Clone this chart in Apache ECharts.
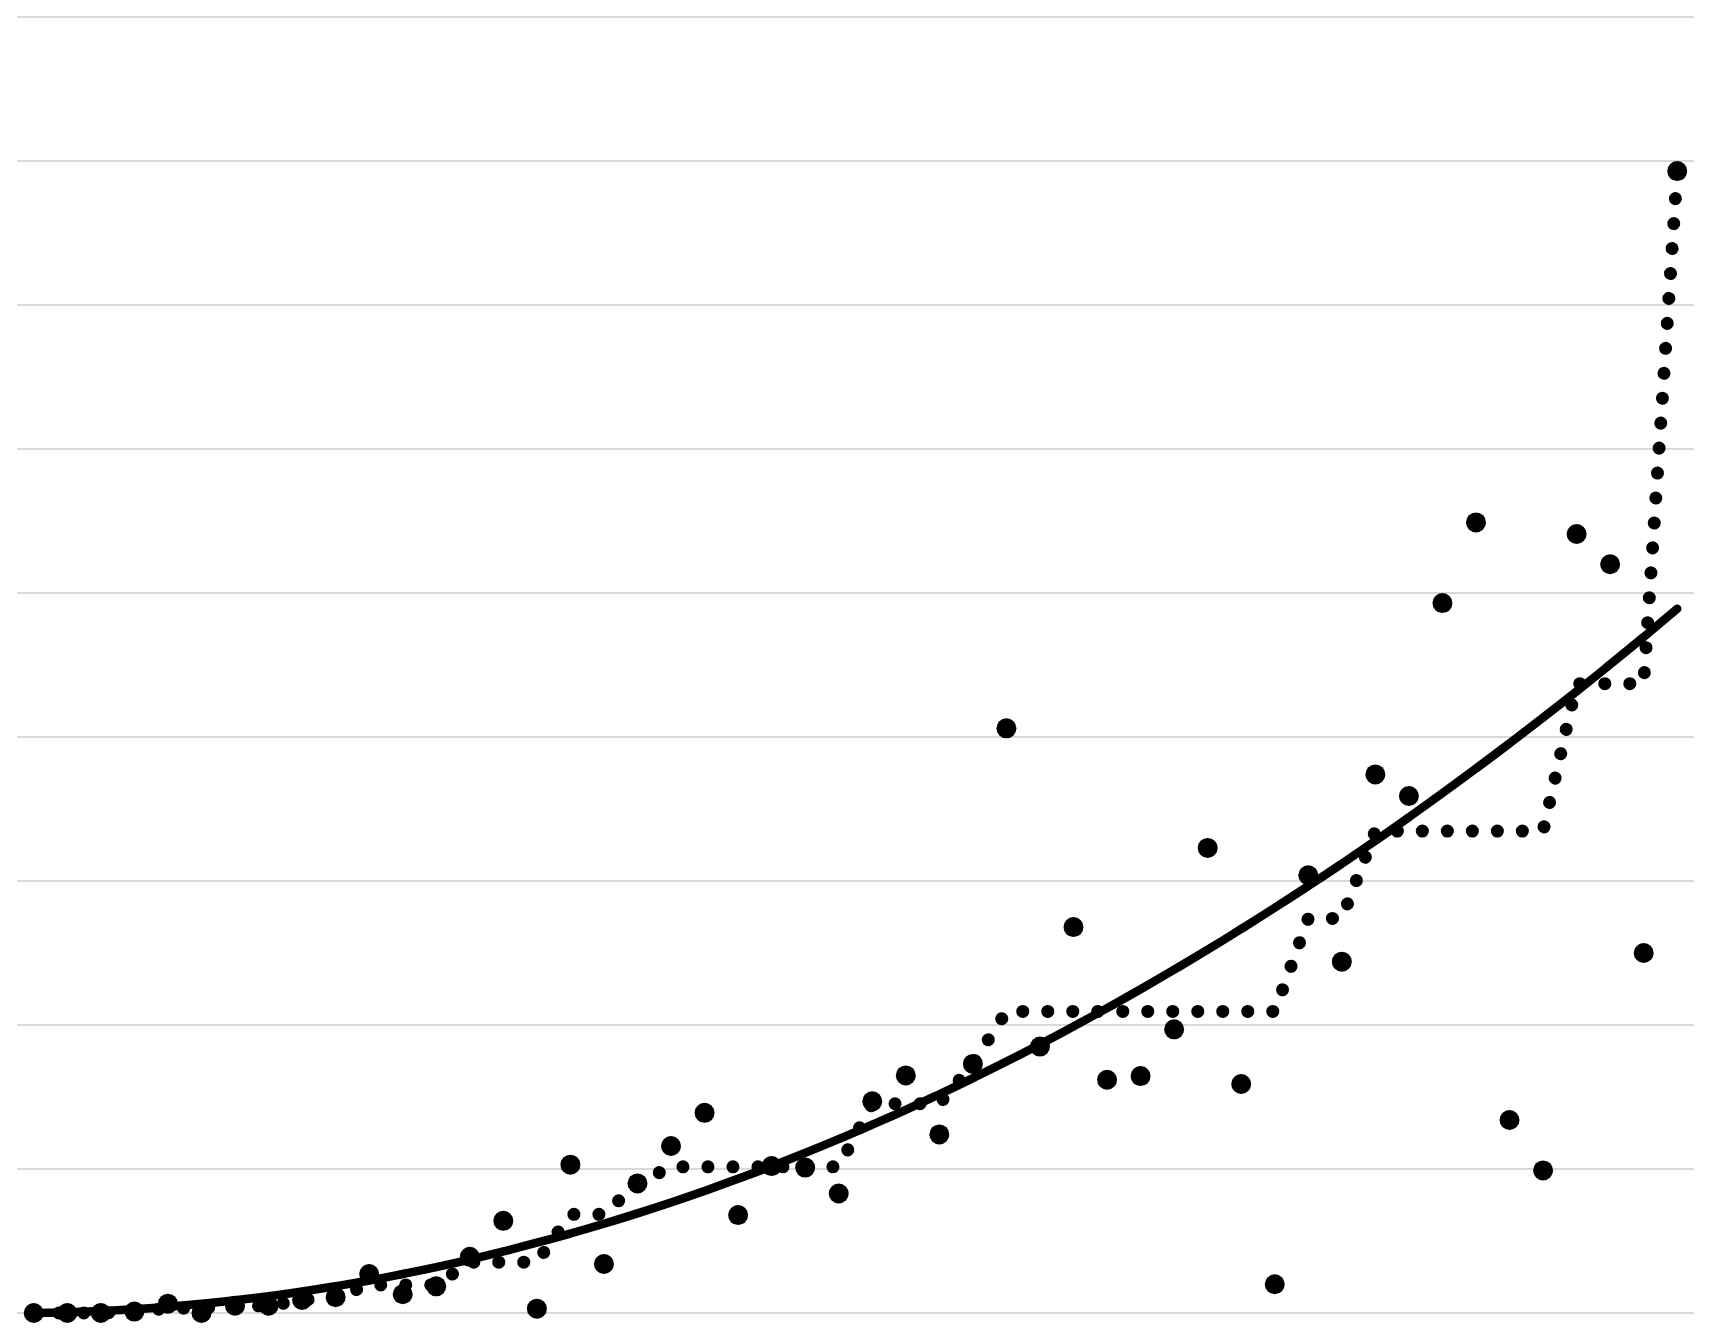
<!DOCTYPE html>
<html><head><meta charset="utf-8">
<script src="https://cdn.jsdelivr.net/npm/echarts@6/dist/echarts.min.js"></script>
<style>html,body{margin:0;padding:0;background:#fff}#c{width:1719px;height:1342px}</style>
</head><body><div id="c"></div>
<script>
const xValues = [0,1,2,3,4,5,6,7,8,9,10,11,12,13,14,15,16,17,18,19,20,21,22,23,24,25,26,27,28,29,30,31,32,33,34,35,36,37,38,39,40,41,42,43,44,45,46,47,48,49];
const observed = [0.00,0.00,0.00,0.01,0.065,0.00,0.05,0.05,0.09,0.11,
  0.27,0.13,0.185,0.39,0.64,0.03,1.03,0.34,0.90,1.16,
  1.39,0.68,1.02,1.01,0.83,1.47,1.65,1.24,1.73,4.06,
  1.85,2.68,1.62,1.645,1.97,3.23,1.59,0.20,3.04,2.44,
  3.74,3.59,4.93,5.49,1.34,0.99,5.41,5.20,2.50,7.93];
const trendFit = [0.00,0.005,0.014,0.026,0.043,0.064,0.088,0.117,0.149,0.186,
  0.226,0.271,0.319,0.371,0.428,0.488,0.552,0.620,0.692,0.768,
  0.848,0.932,1.020,1.112,1.208,1.308,1.411,1.519,1.631,1.746,
  1.866,1.990,2.117,2.248,2.384,2.523,2.667,2.814,2.965,3.120,
  3.279,3.443,3.610,3.781,3.956,4.135,4.317,4.504,4.695,4.890];
const isotonicFit = [0,0,0,0.01,0.033,0.033,0.05,0.05,0.09,0.11,
  0.195,0.195,0.195,0.353,0.353,0.353,0.685,0.685,0.90,1.015,
  1.015,1.015,1.015,1.015,1.015,1.453,1.453,1.453,1.73,2.094,
  2.094,2.094,2.094,2.094,2.094,2.094,2.094,2.094,2.74,2.74,
  3.347,3.347,3.347,3.347,3.347,3.347,4.37,4.37,4.37,7.93];
const yTicks = [0,1,2,3,4,5,6,7,8,9];

const pairs = arr => xValues.map((x, k) => [x, arr[k]]);
const chart = echarts.init(document.getElementById('c'), null, {renderer: 'canvas'});
chart.setOption({
  animation: false,
  backgroundColor: '#fff',
  grid: {left: 17, right: 25, top: 17, bottom: 29, containLabel: false},
  xAxis: {type: 'value', min: -0.5, max: 49.5, show: true,
    axisLine: {show: false}, axisTick: {show: false}, axisLabel: {show: false}, splitLine: {show: false}},
  yAxis: {type: 'value', min: yTicks[0], max: yTicks[yTicks.length - 1], interval: 1,
    axisLine: {show: false}, axisTick: {show: false}, axisLabel: {show: false},
    splitLine: {show: true, lineStyle: {color: '#d9d9d9', width: 2}}},
  series: [
    {type: 'scatter', data: pairs(observed), symbol: 'circle', symbolSize: 20, clip: false,
      itemStyle: {color: '#000', opacity: 1}, emphasis: {disabled: true}, z: 3},
    {type: 'line', data: pairs(isotonicFit), symbol: 'none', clip: false,
      lineStyle: {color: '#000', width: 13, opacity: 1, type: [0.1, 24.9], cap: 'round', join: 'round'}, z: 4},
    {type: 'line', data: pairs(trendFit), symbol: 'none', smooth: true, clip: false,
      lineStyle: {color: '#000', width: 8.5, opacity: 1, cap: 'round'}, z: 5}
  ]
});
</script></body></html>
